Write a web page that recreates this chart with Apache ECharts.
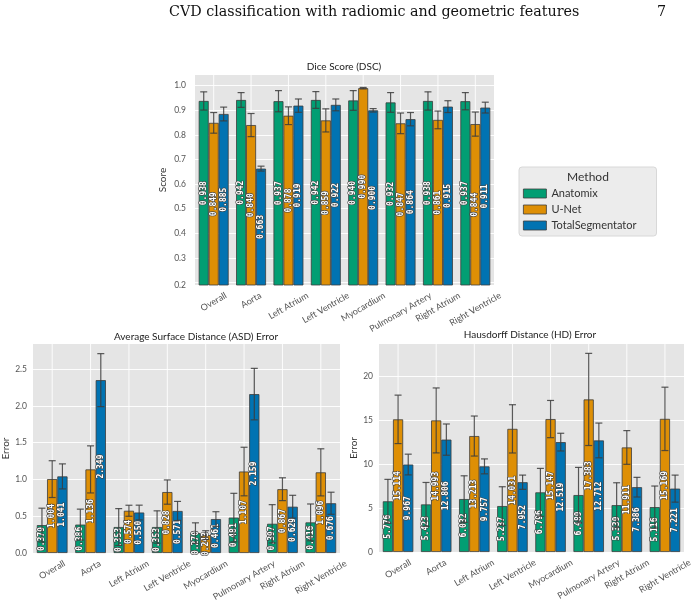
<!DOCTYPE html>
<html>
<head>
<meta charset="utf-8">
<script src="https://cdn.jsdelivr.net/npm/echarts@6/dist/echarts.min.js"></script>
<style>
  html, body { margin: 0; padding: 0; background: #fff; }
  #chart { width: 696px; height: 602px; }
</style>
</head>
<body>
<div id="chart"></div>
<script>
// categories / methods
const categories = ['Overall', 'Aorta', 'Left Atrium', 'Left Ventricle', 'Myocardium', 'Pulmonary Artery', 'Right Atrium', 'Right Ventricle']
const methods = ['Anatomix', 'U-Net', 'TotalSegmentator']
const colors = ['#029e73', '#de8f05', '#0173b2']

// Dice score (mean, std)
const dscAnatomix = [0.938, 0.942, 0.937, 0.942, 0.940, 0.932, 0.938, 0.937]
const dscUnet = [0.849, 0.840, 0.878, 0.859, 0.990, 0.847, 0.861, 0.844]
const dscTotalSeg = [0.885, 0.663, 0.919, 0.922, 0.900, 0.864, 0.915, 0.911]
const dscAnatomixStd = [0.037, 0.030, 0.043, 0.034, 0.040, 0.040, 0.037, 0.035]
const dscUnetStd = [0.042, 0.047, 0.036, 0.047, 0.003, 0.042, 0.036, 0.049]
const dscTotalSegStd = [0.028, 0.010, 0.027, 0.024, 0.007, 0.027, 0.024, 0.022]

// Average surface distance
const asdAnatomix = [0.379, 0.386, 0.353, 0.353, 0.270, 0.481, 0.397, 0.416]
const asdUnet = [1.004, 1.136, 0.574, 0.828, 0.243, 1.107, 0.867, 1.096]
const asdTotalSeg = [1.041, 2.349, 0.550, 0.571, 0.461, 2.159, 0.629, 0.676]
const asdAnatomixStd = [0.23, 0.21, 0.25, 0.22, 0.14, 0.33, 0.26, 0.25]
const asdUnetStd = [0.25, 0.32, 0.075, 0.165, 0.06, 0.33, 0.155, 0.32]
const asdTotalSegStd = [0.17, 0.36, 0.10, 0.13, 0.10, 0.35, 0.155, 0.15]

// Hausdorff distance
const hdAnatomix = [5.776, 5.423, 6.032, 5.237, 6.796, 6.489, 5.339, 5.116]
const hdUnet = [15.114, 14.993, 13.213, 14.031, 15.147, 17.383, 11.911, 15.169]
const hdTotalSeg = [9.967, 12.806, 9.757, 7.952, 12.519, 12.712, 7.386, 7.221]
const hdAnatomixStd = [2.5, 2.5, 2.65, 2.2, 2.73, 3.15, 2.55, 2.4]
const hdUnetStd = [2.76, 3.7, 2.28, 2.75, 2.12, 5.25, 1.92, 3.61]
const hdTotalSegStd = [1.18, 1.78, 0.85, 0.81, 1.01, 1.98, 1.12, 1.54]

const uiFont = 'Lato'
const gridBg = '#e5e5e5'
const tickColor = '#555'

const measureCtx = document.createElement('canvas').getContext('2d')
function textWidth(s, font) {
  measureCtx.font = font
  return measureCtx.measureText(s).width
}

function panelSeries(idx, vals, errs, yMin, yMax) {
  const list = []
  // white vertical grid lines + rotated category labels
  list.push({
    type: 'custom',
    xAxisIndex: idx,
    yAxisIndex: idx,
    silent: true,
    z: 1,
    data: categories.map((c, i) => [i, yMin]),
    encode: { x: 0, y: 1 },
    renderItem: function(params, api) {
      const i = api.value(0)
      const bottom = api.coord([i, yMin])
      const top = api.coord([i, yMax])
      const font = '9px ' + uiFont
      const w = textWidth(categories[i], font)
      const h = 9 * 1.2
      const H = w * 0.5 + h * 0.866
      return {
        type: 'group',
        children: [
          { type: 'line', shape: { x1: bottom[0], y1: bottom[1], x2: top[0], y2: top[1] }, style: { stroke: '#fff', lineWidth: 0.9 } },
          {
            type: 'text', x: bottom[0], y: bottom[1] + 5 + H / 2, rotation: Math.PI / 6,
            style: { text: categories[i], font: font, fill: tickColor, align: 'center', verticalAlign: 'middle' }
          }
        ]
      }
    }
  })
  for (let m = 0; m < 3; m++) {
    list.push({
      type: 'bar',
      name: methods[m],
      xAxisIndex: idx,
      yAxisIndex: idx,
      data: vals[m],
      barGap: '0%',
      barCategoryGap: '20%',
      clip: true,
      z: 2,
      itemStyle: { color: colors[m], borderColor: '#3c3c3c', borderWidth: 0.8 },
      label: {
        show: true,
        position: 'inside',
        rotate: 90,
        formatter: p => p.value.toFixed(3),
        fontFamily: 'DejaVu Sans Mono',
        fontSize: 8,
        fontWeight: 'bold',
        color: '#fff',
        textBorderColor: '#444',
        textBorderWidth: 1.2
      }
    })
  }
  const rows = []
  for (let m = 0; m < 3; m++) {
    for (let i = 0; i < categories.length; i++) rows.push([i, m, vals[m][i], errs[m][i]])
  }
  list.push({
    type: 'custom',
    xAxisIndex: idx,
    yAxisIndex: idx,
    silent: true,
    z: 4,
    data: rows,
    encode: { x: 0, y: 2 },
    renderItem: function(params, api) {
      const cat = api.value(0)
      const m = api.value(1)
      const v = api.value(2)
      const e = api.value(3)
      const band = api.size([1, 0])[0]
      const bw = band * 0.8 / 3
      const x = api.coord([cat, v])[0] + (m - 1) * bw
      const y1 = api.coord([cat, Math.min(v + e, yMax)])[1]
      const y2 = api.coord([cat, Math.max(v - e, yMin)])[1]
      const st = { stroke: 'rgba(60,60,60,0.85)', lineWidth: 1.2 }
      const cap = 3.5
      return {
        type: 'group',
        children: [
          { type: 'line', shape: { x1: x, y1: y1, x2: x, y2: y2 }, style: st },
          { type: 'line', shape: { x1: x - cap, y1: y1, x2: x + cap, y2: y1 }, style: st },
          { type: 'line', shape: { x1: x - cap, y1: y2, x2: x + cap, y2: y2 }, style: st }
        ]
      }
    }
  })
  return list
}

function yAxisDef(idx, min, max, extra, name, nameGap, margin, fmt) {
  return Object.assign({
    type: 'value',
    gridIndex: idx,
    min: min,
    max: max,
    name: name,
    nameLocation: 'middle',
    nameGap: nameGap,
    nameTextStyle: { fontFamily: uiFont, fontSize: 10, color: '#333' },
    axisLine: { show: false },
    axisTick: { show: false },
    axisLabel: { fontFamily: uiFont, fontSize: 8.5, color: tickColor, margin: margin, formatter: fmt, showMinLabel: true, showMaxLabel: false },
    splitLine: { show: true, showMinLine: false, showMaxLine: false, lineStyle: { color: '#fff', width: 0.9 } }
  }, extra)
}

function xAxisDef(idx) {
  return {
    type: 'category',
    gridIndex: idx,
    data: categories,
    axisLine: { show: false },
    axisTick: { show: false },
    axisLabel: { show: false },
    splitLine: { show: false }
  }
}

const dscMin = 0.19, dscMax = 1.0435
const asdMin = 0, asdMax = 2.84
const hdMin = 0, hdMax = 23.7

const chart = echarts.init(document.getElementById('chart'))
const option = {
  animation: false,
  backgroundColor: '#fff',
  textStyle: { fontFamily: uiFont },
  grid: [
    { left: 195, top: 75, width: 299, height: 210, show: true, backgroundColor: gridBg, borderWidth: 0 },
    { left: 33, top: 344, width: 307, height: 209, show: true, backgroundColor: gridBg, borderWidth: 0 },
    { left: 379, top: 344, width: 305, height: 208, show: true, backgroundColor: gridBg, borderWidth: 0 }
  ],
  xAxis: [xAxisDef(0), xAxisDef(1), xAxisDef(2)],
  yAxis: [
    yAxisDef(0, dscMin, dscMax, { splitNumber: 8 }, 'Score', 27, 9, v => v.toFixed(1)),
    yAxisDef(1, asdMin, asdMax, { interval: 0.5 }, 'Error', 18, 6, v => v.toFixed(1)),
    yAxisDef(2, hdMin, hdMax, { interval: 5 }, 'Error', 16, 6, v => String(v))
  ],
  legend: {
    data: methods,
    orient: 'vertical',
    left: 519,
    top: 167,
    padding: [21, 20, 5, 4],
    itemWidth: 23,
    itemHeight: 9,
    itemGap: 5,
    icon: 'rect',
    backgroundColor: '#ececec',
    borderColor: '#d8d8d8',
    borderWidth: 1,
    borderRadius: 3,
    textStyle: { fontFamily: uiFont, fontSize: 11, color: '#333' },
    itemStyle: { borderColor: '#3c3c3c', borderWidth: 0.8 }
  },
  graphic: [
    { type: 'text', left: 169, top: 5, style: { text: 'CVD classification with radiomic and geometric features', font: '14.3px "DejaVu Serif"', fill: '#111' } },
    { type: 'text', left: 657, top: 5, style: { text: '7', font: '14.3px "DejaVu Serif"', fill: '#111' } },
    { type: 'text', x: 344, y: 67, style: { text: 'Dice Score (DSC)', font: '10px ' + uiFont, fill: '#222', align: 'center', verticalAlign: 'middle' } },
    { type: 'text', x: 196, y: 337, style: { text: 'Average Surface Distance (ASD) Error', font: '10px ' + uiFont, fill: '#222', align: 'center', verticalAlign: 'middle' } },
    { type: 'text', x: 530, y: 335, style: { text: 'Hausdorff Distance (HD) Error', font: '10px ' + uiFont, fill: '#222', align: 'center', verticalAlign: 'middle' } },
    { type: 'text', x: 588, y: 177, z: 100, style: { text: 'Method', font: '12px ' + uiFont, fill: '#333', align: 'center', verticalAlign: 'middle' } }
  ],
  series: [].concat(
    panelSeries(0, [dscAnatomix, dscUnet, dscTotalSeg], [dscAnatomixStd, dscUnetStd, dscTotalSegStd], dscMin, dscMax),
    panelSeries(1, [asdAnatomix, asdUnet, asdTotalSeg], [asdAnatomixStd, asdUnetStd, asdTotalSegStd], asdMin, asdMax),
    panelSeries(2, [hdAnatomix, hdUnet, hdTotalSeg], [hdAnatomixStd, hdUnetStd, hdTotalSegStd], hdMin, hdMax)
  )
}
chart.setOption(option)
</script>
</body>
</html>
